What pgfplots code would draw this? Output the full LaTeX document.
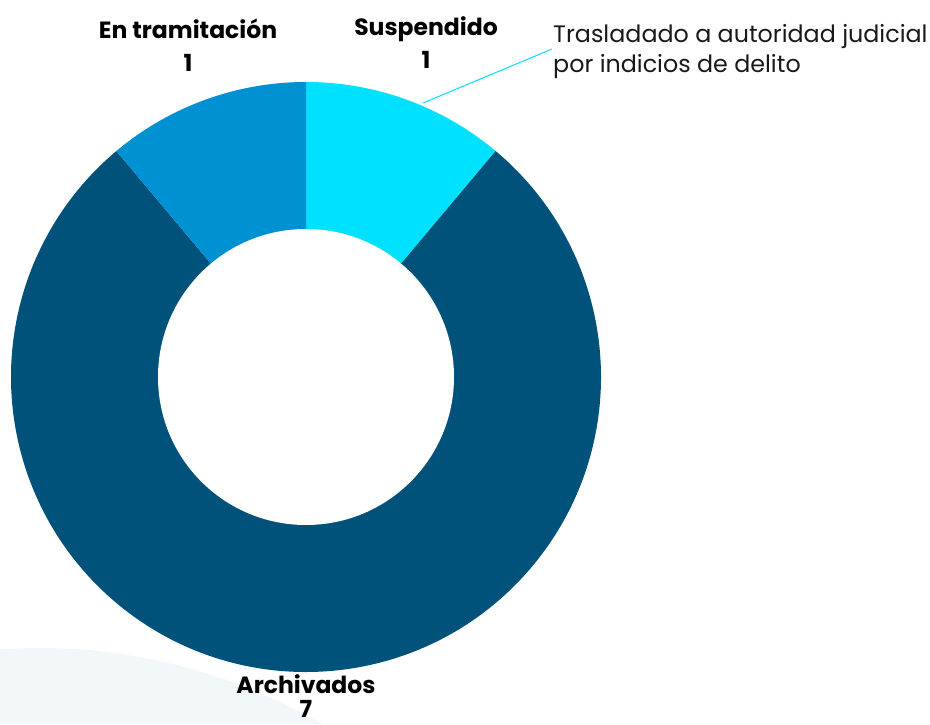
\documentclass[border=0pt]{standalone}
\usepackage{fontspec}
\setmainfont{Poppins}
\usepackage{pgfplots}
\usepackage{pgfplotstable}
\pgfplotsset{compat=1.18}
\definecolor{cSus}{RGB}{0,225,255}
\definecolor{cArc}{RGB}{0,82,122}
\definecolor{cTra}{RGB}{0,145,210}
\definecolor{cBg}{RGB}{242,247,250}
\definecolor{cTxt}{RGB}{25,25,25}

\pgfplotstableread{
label value
Suspendido 1
Archivados 7
Tramitacion 1
}\donutdata

\begin{document}%
\begin{tikzpicture}
\pgfplotstablegetelem{0}{value}\of\donutdata \let\vA\pgfplotsretval
\pgfplotstablegetelem{1}{value}\of\donutdata \let\vB\pgfplotsretval
\pgfplotstablegetelem{2}{value}\of\donutdata \let\vC\pgfplotsretval
\pgfmathsetmacro\tot{\vA+\vB+\vC}
\pgfmathsetmacro\aA{90}
\pgfmathsetmacro\aB{\aA-360*\vA/\tot}
\pgfmathsetmacro\aC{\aB-360*\vB/\tot}
\pgfmathsetmacro\aD{\aC-360*\vC/\tot}
\useasboundingbox (0,0) rectangle (930pt,724pt);
\clip (0,0) rectangle (930pt,724pt);
\begin{axis}[hide axis, scale only axis, x=1pt, y=1pt,
  xmin=0, xmax=930, ymin=0, ymax=724, clip=false,
  anchor=south west, at={(0,0)}]
% background decoration (part of a large pale circle, inside the frame)
\fill[cBg] (axis cs:0,0) -- (axis cs:321.7,0) arc[start angle=59.8, end angle=94.1, radius=560pt] -- cycle;
% slices
\fill[cSus] (axis cs:306,347) -- +(\aA:295pt) arc[start angle=\aA, end angle=\aB, radius=295pt] -- cycle;
\fill[cArc] (axis cs:306,347) -- +(\aB:295pt) arc[start angle=\aB, end angle=\aC, radius=295pt] -- cycle;
\fill[cTra] (axis cs:306,347) -- +(\aC:295pt) arc[start angle=\aC, end angle=\aD, radius=295pt] -- cycle;
\fill[white] (axis cs:306,347) circle[radius=148pt];
% leader line
\draw[cSus, line width=1pt] (axis cs:423,621) -- (axis cs:552,675);
% labels
\node[anchor=base, font=\bfseries\fontsize{23.5}{26}\selectfont] at (axis cs:188,685) {En tramitación};
\node[anchor=base, font=\bfseries\fontsize{23.5}{26}\selectfont] at (axis cs:188,652) {1};
\node[anchor=base, font=\bfseries\fontsize{23.5}{26}\selectfont] at (axis cs:426,688) {Suspendido};
\node[anchor=base, font=\bfseries\fontsize{23.5}{26}\selectfont] at (axis cs:426,655) {1};
\node[anchor=base, font=\bfseries\fontsize{23.5}{26}\selectfont] at (axis cs:306,31) {Archivados};
\node[anchor=base, font=\bfseries\fontsize{23.5}{26}\selectfont, inner sep=0pt] at (axis cs:306,7) {7};
\node[anchor=base west, inner sep=0pt, text=cTxt, font=\fontsize{23.8}{28}\selectfont] at (axis cs:553,681) {Trasladado a autoridad judicial};
\node[anchor=base west, inner sep=0pt, text=cTxt, font=\fontsize{23.8}{28}\selectfont] at (axis cs:553,651) {por indicios de delito};
\end{axis}
\end{tikzpicture}%
\end{document}
